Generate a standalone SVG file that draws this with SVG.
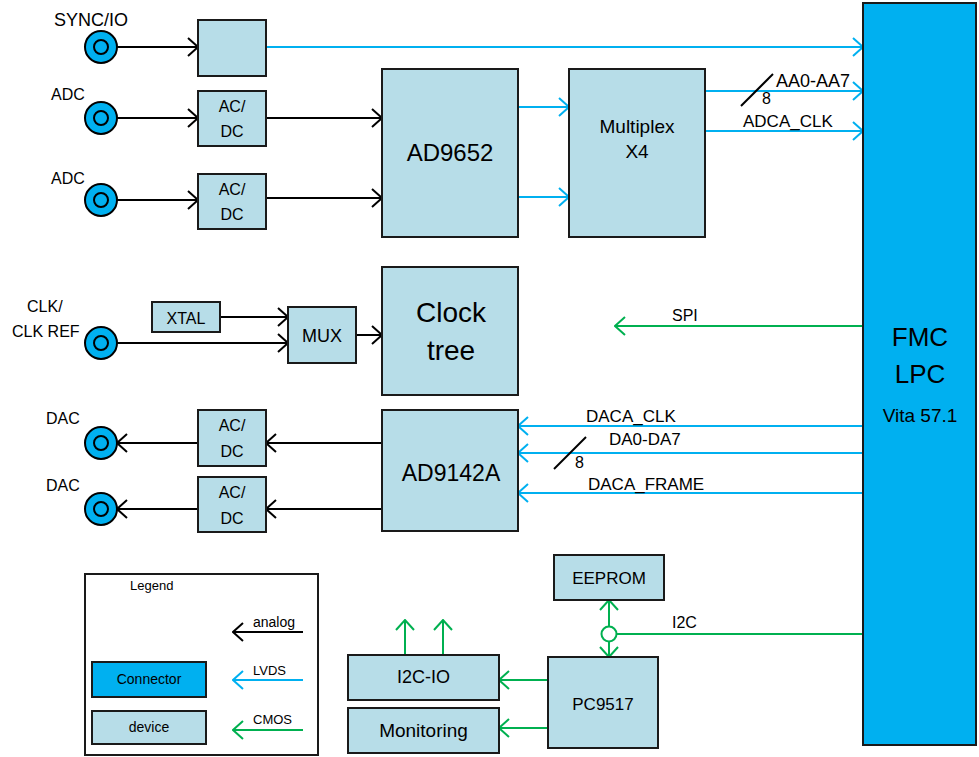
<svg xmlns="http://www.w3.org/2000/svg" width="979" height="757" viewBox="0 0 979 757">
<style>
text{font-family:"Liberation Sans",Arial,sans-serif;fill:#000}
.dev{fill:#b7dde8;stroke:#1a1a1a;stroke-width:2}
.fmc{fill:#00b0f0;stroke:#1a1a1a;stroke-width:2}
.ring{fill:#00b0f0;stroke:#000;stroke-width:2}
.inner{fill:none;stroke:#000;stroke-width:2}
.an{stroke:#000;stroke-width:2;fill:none;marker-end:url(#ab)}
.lv{stroke:#00b0f0;stroke-width:2;fill:none;marker-end:url(#au)}
.cm{stroke:#00b050;stroke-width:2;fill:none;marker-end:url(#ag)}
.cmp{stroke:#00b050;stroke-width:2;fill:none}
.sl{stroke:#000;stroke-width:2}
.c{text-anchor:middle}
</style>
<defs>
<marker id="ab" viewBox="0 0 12 20" refX="11" refY="10" markerWidth="12" markerHeight="20" markerUnits="userSpaceOnUse" orient="auto"><path d="M1,1 L11,10 L1,19" fill="none" stroke="#000" stroke-width="2"/></marker>
<marker id="au" viewBox="0 0 12 20" refX="11" refY="10" markerWidth="12" markerHeight="20" markerUnits="userSpaceOnUse" orient="auto"><path d="M1,1 L11,10 L1,19" fill="none" stroke="#00b0f0" stroke-width="2"/></marker>
<marker id="ag" viewBox="0 0 12 20" refX="11" refY="10" markerWidth="12" markerHeight="20" markerUnits="userSpaceOnUse" orient="auto"><path d="M1,1 L11,10 L1,19" fill="none" stroke="#00b050" stroke-width="2"/></marker>
</defs>
<g id="connectors">
<line class="an" x1="117" y1="47" x2="198" y2="47"/>
<line class="an" x1="117" y1="118" x2="198" y2="118"/>
<line class="an" x1="117" y1="200" x2="198" y2="200"/>
<line class="lv" x1="266" y1="47" x2="863" y2="47"/>
<line class="an" x1="266" y1="118" x2="382" y2="118"/>
<line class="an" x1="266" y1="198" x2="382" y2="198"/>
<line class="lv" x1="518" y1="107" x2="569" y2="107"/>
<line class="lv" x1="518" y1="197" x2="569" y2="197"/>
<line class="lv" x1="705" y1="91" x2="863" y2="91"/>
<line class="sl" x1="741" y1="106" x2="773" y2="74"/>
<text x="762" y="104" font-size="16">8</text>
<text x="776" y="87" font-size="18">AA0-AA7</text>
<line class="lv" x1="705" y1="131" x2="863" y2="131"/>
<text x="743" y="127" font-size="17">ADCA_CLK</text>
<line class="an" x1="220" y1="317" x2="288" y2="317"/>
<line class="an" x1="117" y1="343" x2="288" y2="343"/>
<line class="an" x1="356" y1="335" x2="382" y2="335"/>
<line class="cm" x1="863" y1="326" x2="615" y2="326"/>
<text x="672" y="321" font-size="16">SPI</text>
<line class="lv" x1="863" y1="426" x2="518" y2="426"/>
<text x="586" y="422" font-size="17">DACA_CLK</text>
<line class="lv" x1="863" y1="453" x2="518" y2="453"/>
<text x="609" y="445" font-size="17">DA0-DA7</text>
<line class="sl" x1="554" y1="469" x2="586" y2="437"/>
<text x="575" y="468" font-size="16">8</text>
<line class="lv" x1="863" y1="493" x2="518" y2="493"/>
<text x="588" y="490" font-size="17">DACA_FRAME</text>
<line class="an" x1="382" y1="443" x2="266" y2="443"/>
<line class="an" x1="198" y1="443" x2="117" y2="443"/>
<line class="an" x1="382" y1="509" x2="266" y2="509"/>
<line class="an" x1="198" y1="509" x2="117" y2="509"/>
<line class="cmp" x1="863" y1="634" x2="616.5" y2="634"/>
<circle cx="609" cy="634" r="7.5" fill="#fff" stroke="#00b050" stroke-width="2"/>
<line class="cm" x1="609" y1="626.5" x2="609" y2="600"/>
<line class="cm" x1="609" y1="641.5" x2="609" y2="657"/>
<text x="672" y="628" font-size="16">I2C</text>
<line class="cm" x1="548" y1="680" x2="499" y2="680"/>
<line class="cm" x1="548" y1="728" x2="499" y2="728"/>
<line class="cm" x1="405" y1="655" x2="405" y2="620"/>
<line class="cm" x1="443" y1="655" x2="443" y2="620"/>
</g>
<g id="sync-conn"><circle class="ring" cx="101" cy="47" r="16"/><circle class="inner" cx="101" cy="47" r="7"/><text x="54" y="26" font-size="18">SYNC/IO</text></g>
<g id="adc1-conn"><circle class="ring" cx="101" cy="118" r="16"/><circle class="inner" cx="101" cy="118" r="7"/><text x="51" y="100" font-size="16">ADC</text></g>
<g id="adc2-conn"><circle class="ring" cx="101" cy="200" r="16"/><circle class="inner" cx="101" cy="200" r="7"/><text x="51" y="184" font-size="16">ADC</text></g>
<g id="clk-conn"><circle class="ring" cx="101" cy="343" r="16"/><circle class="inner" cx="101" cy="343" r="7"/><text x="27" y="312" font-size="16">CLK/</text><text x="12" y="337" font-size="16">CLK REF</text></g>
<g id="dac1-conn"><circle class="ring" cx="101" cy="443" r="16"/><circle class="inner" cx="101" cy="443" r="7"/><text x="46" y="424" font-size="16">DAC</text></g>
<g id="dac2-conn"><circle class="ring" cx="101" cy="509" r="16"/><circle class="inner" cx="101" cy="509" r="7"/><text x="46" y="491" font-size="16">DAC</text></g>
<g id="sync-box"><rect class="dev" x="198" y="20" width="68" height="56"/></g>
<g id="acdc1"><rect class="dev" x="198" y="91" width="68" height="55"/><text class="c" x="232" y="112" font-size="16">AC/</text><text class="c" x="232" y="137" font-size="16">DC</text></g>
<g id="acdc2"><rect class="dev" x="198" y="174" width="68" height="55"/><text class="c" x="232" y="195" font-size="16">AC/</text><text class="c" x="232" y="220" font-size="16">DC</text></g>
<g id="ad9652"><rect class="dev" x="382" y="69" width="136" height="168"/><text class="c" x="450" y="161" font-size="24">AD9652</text></g>
<g id="multiplex"><rect class="dev" x="569" y="69" width="136" height="168"/><text class="c" x="637" y="133" font-size="19">Multiplex</text><text class="c" x="637" y="158" font-size="19">X4</text></g>
<g id="xtal"><rect class="dev" x="152" y="302" width="68" height="30"/><text class="c" x="186" y="324" font-size="16">XTAL</text></g>
<g id="mux"><rect class="dev" x="288" y="307" width="68" height="56"/><text class="c" x="322" y="342" font-size="18">MUX</text></g>
<g id="clocktree"><rect class="dev" x="382" y="267" width="136" height="128"/><text class="c" x="451" y="322" font-size="28">Clock</text><text class="c" x="451" y="360" font-size="28">tree</text></g>
<g id="ad9142a"><rect class="dev" x="382" y="410" width="136" height="121"/><text class="c" x="451" y="481" font-size="23">AD9142A</text></g>
<g id="dac-acdc1"><rect class="dev" x="198" y="410" width="68" height="56"/><text class="c" x="232" y="431" font-size="16">AC/</text><text class="c" x="232" y="457" font-size="16">DC</text></g>
<g id="dac-acdc2"><rect class="dev" x="198" y="477" width="68" height="55"/><text class="c" x="232" y="498" font-size="16">AC/</text><text class="c" x="232" y="524" font-size="16">DC</text></g>
<g id="fmc"><rect class="fmc" x="863" y="3" width="113" height="742"/><text class="c" x="920" y="346" font-size="26">FMC</text><text class="c" x="920" y="383" font-size="26">LPC</text><text class="c" x="920" y="422" font-size="19">Vita 57.1</text></g>
<g id="eeprom"><rect class="dev" x="554" y="555" width="110" height="45"/><text class="c" x="609" y="584" font-size="17">EEPROM</text></g>
<g id="pc9517"><rect class="dev" x="548" y="657" width="110" height="91"/><text class="c" x="603" y="710" font-size="17">PC9517</text></g>
<g id="i2cio"><rect class="dev" x="348" y="655" width="151" height="45"/><text class="c" x="423.5" y="683" font-size="18">I2C-IO</text></g>
<g id="monitoring"><rect class="dev" x="348" y="708" width="151" height="45"/><text class="c" x="423.5" y="737" font-size="19">Monitoring</text></g>
<g id="legend">
<rect x="85" y="574" width="233" height="181" fill="#fff" stroke="#1a1a1a" stroke-width="2"/>
<text x="130" y="590" font-size="13">Legend</text>
<rect x="92" y="662" width="114" height="35" fill="#00b0f0" stroke="#1a1a1a" stroke-width="2"/>
<text class="c" x="149" y="684" font-size="14">Connector</text>
<rect class="dev" x="92" y="711" width="114" height="33"/>
<text class="c" x="149" y="732" font-size="14">device</text>
<line class="an" x1="303" y1="632" x2="233" y2="632"/>
<text x="253" y="627" font-size="14">analog</text>
<line class="lv" x1="303" y1="680" x2="233" y2="680"/>
<text x="253" y="675" font-size="13">LVDS</text>
<line class="cm" x1="303" y1="730" x2="233" y2="730"/>
<text x="253" y="724" font-size="13">CMOS</text>
</g>
</svg>
